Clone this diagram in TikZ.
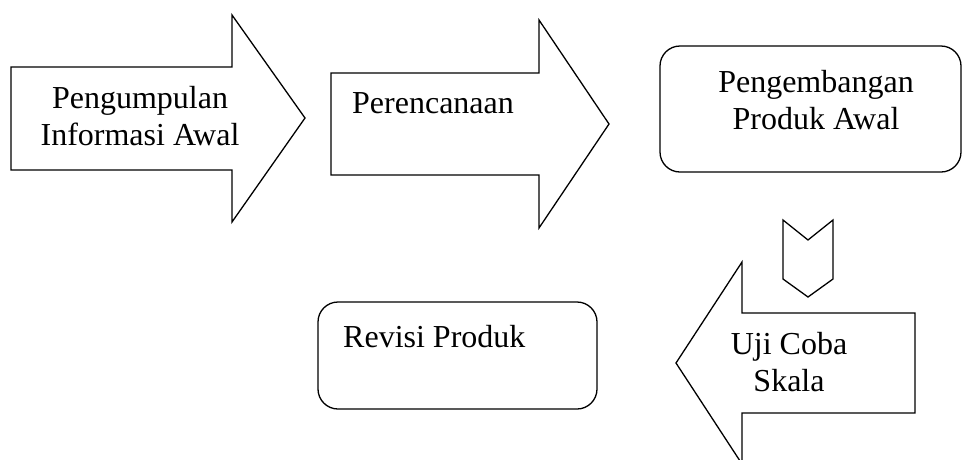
\documentclass[tikz,border=0pt]{standalone}
\usepackage{fontspec}
\setmainfont{Liberation Serif}
\begin{document}
\begin{tikzpicture}[x=1pt,y=-1pt,
  shp/.style={draw=black,line width=1.3pt,line join=miter},
  rbox/.style={draw=black,line width=1.3pt,rounded corners=20pt},
  lbl/.style={font=\fontsize{32}{37}\selectfont,inner sep=0pt,anchor=base}]
\useasboundingbox (0,0) rectangle (962,459);
\clip (0,0) rectangle (962,459);
% arrow 1
\draw[shp] (11,67) -- (232,67) -- (232,15) -- (305,118) -- (232,222) -- (232,170) -- (11,170) -- cycle;
\node[lbl,align=center] (t1) at (140,145) {Pengumpulan\\Informasi Awal};
% arrow 2
\draw[shp] (331,73) -- (539,73) -- (539,20) -- (609,124) -- (539,228) -- (539,175) -- (331,175) -- cycle;
\node[lbl,anchor=base west] (t2) at (352,113) {Perencanaan};
% rounded box 1
\draw[rbox] (660,46) rectangle (961,172);
\node[lbl,align=center] (t3) at (816,129) {Pengembangan\\Produk Awal};
% chevron
\draw[shp] (783,220) -- (808,240) -- (833,220) -- (833,279) -- (808,297) -- (783,279) -- cycle;
% arrow 3 (left)
\draw[shp] (915,313) -- (742,313) -- (742,262) -- (676,363) -- (742,464) -- (742,413) -- (915,413) -- cycle;
\node[lbl,align=center] (t4) at (789,391) {Uji Coba\\Skala};
% rounded box 2
\draw[rbox] (318,302) rectangle (597,409);
\node[lbl,anchor=base west] (t5) at (343,347) {Revisi Produk};
\end{tikzpicture}
\end{document}
